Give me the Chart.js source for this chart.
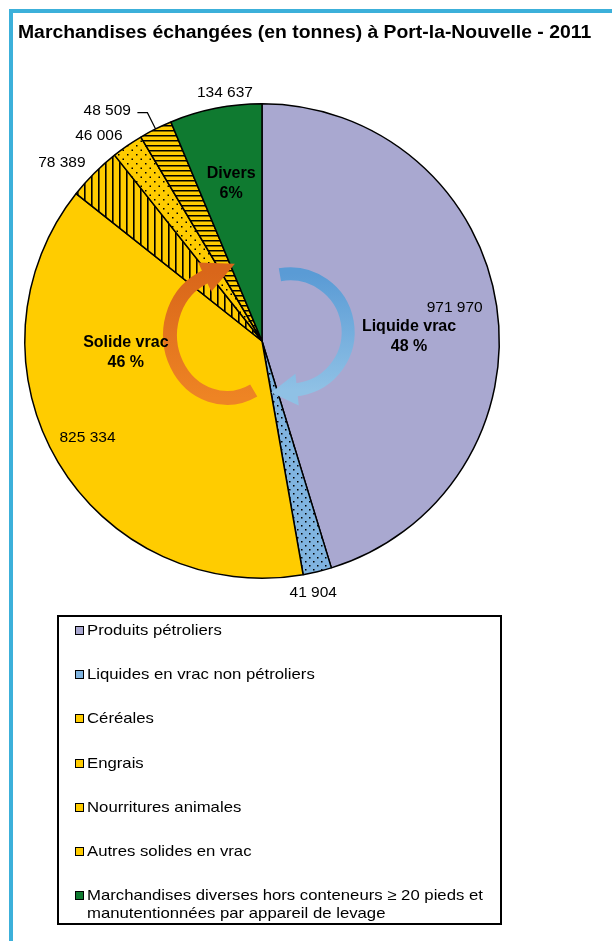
<!DOCTYPE html>
<html><head><meta charset="utf-8">
<script src="https://cdn.jsdelivr.net/npm/chart.js@4.4.1/dist/chart.umd.min.js"></script>
<style>
html,body{margin:0;padding:0;background:#fff;}
body{width:612px;height:941px;position:relative;overflow:hidden;font-family:"Liberation Sans",Arial,sans-serif;}
#frameTop{position:absolute;left:9px;top:9px;width:603px;height:4px;background:#3CB0DA;}
#frameLeft{position:absolute;left:9px;top:9px;width:4px;height:932px;background:#3CB0DA;}
#title{position:absolute;left:18px;top:21px;font-weight:bold;font-size:18px;line-height:22px;white-space:nowrap;color:#000;transform:scaleX(1.075);transform-origin:0 0;}
#c{position:absolute;left:0;top:0;}
#legend{position:absolute;left:57px;top:615px;width:441px;height:306px;border:2px solid #000;}
.item{position:absolute;left:16px;padding-left:12px;font-size:15px;line-height:18px;color:#000;white-space:nowrap;}
.item .tx{display:inline-block;transform:scaleX(1.115);transform-origin:0 0;}
.sw{position:absolute;left:0;top:5px;width:7px;height:7px;border:1.5px solid #000;}
</style></head>
<body>
<div id="frameTop"></div><div id="frameLeft"></div>
<canvas id="c" width="612" height="941"></canvas>
<div id="title">Marchandises échangées (en tonnes) à Port-la-Nouvelle - 2011</div>
<div id="legend"></div>
<script>
// ---- data ----
const categories = [
  'Produits pétroliers',
  'Liquides en vrac non pétroliers',
  'Céréales',
  'Engrais',
  'Nourritures animales',
  'Autres solides en vrac',
  'Marchandises diverses hors conteneurs ≥ 20 pieds et manutentionnées par appareil de levage'
];
const tonnages = [971970, 41904, 825334, 78389, 46006, 48509, 134637];
const groupNames = ['Liquide vrac', 'Solide vrac', 'Divers'];
const groupPercents = ['48 %', '46 %', '6%'];
const groupMembers = [[0, 1], [2, 3, 4, 5], [6]];

// ---- styles ----
const baseColors = ['#A9A8D0', '#80B4E0', '#FFCC00', '#FFCC00', '#FFCC00', '#FFCC00', '#0F7A30'];
const patternKind = ['none', 'dots', 'none', 'vlines', 'dots2', 'hlines', 'none'];
// label placement: radial factor and angular shift (deg) from slice mid-angle
const labelPlace = [
  {f:0.824, da:-1.2}, {f:1.084, da:2.0}, {f:0.84, da:1.9}, {f:1.13, da:-3.3},
  {f:1.105, da:-3.9}, {f:1.168, da:-7.3}, {f:1.059, da:2.8}
];
const groupPlace = [{f:0.62, da:3.3}, {f:0.576, da:11.4}, {f:0.677, da:0.2}];

function makePattern(kind, color) {
  if (kind === 'none') return color;
  const t = document.createElement('canvas');
  const g = t.getContext('2d');
  if (kind === 'dots' || kind === 'dots2') {
    const s = kind === 'dots' ? 8 : 9;
    t.width = s; t.height = s;
    g.fillStyle = color; g.fillRect(0, 0, s, s);
    g.fillStyle = '#000';
    g.fillRect(1, 1, 1.5, 1.5);
    g.fillRect(1 + s / 2, 1 + s / 2, 1.5, 1.5);
  } else if (kind === 'vlines') {
    t.width = 7; t.height = 4;
    g.fillStyle = color; g.fillRect(0, 0, 7, 4);
    g.fillStyle = '#000'; g.fillRect(0, 0, 1.6, 4);
  } else if (kind === 'hlines') {
    t.width = 4; t.height = 5;
    g.fillStyle = color; g.fillRect(0, 0, 4, 5);
    g.fillStyle = '#000'; g.fillRect(0, 0, 4, 1.5);
  }
  return g.createPattern(t, 'repeat');
}

const cvs = document.getElementById('c');
const fills = baseColors.map((c, i) => makePattern(patternKind[i], c));

function fmt(v) { return String(v).replace(/\B(?=(\d{3})+(?!\d))/g, ' '); }

function drawArrow(ctx, cx, cy, rx, ry, a0, a1, w, c0, c1, headLen, headHalf) {
  const grad = ctx.createLinearGradient(0, cy - ry, 0, cy + ry);
  grad.addColorStop(0, c0); grad.addColorStop(1, c1);
  ctx.save();
  ctx.strokeStyle = grad; ctx.fillStyle = grad;
  ctx.lineWidth = w; ctx.lineCap = 'butt';
  ctx.beginPath();
  ctx.ellipse(cx, cy, rx, ry, 0, a0, a1, a1 < a0);
  ctx.stroke();
  const dir = a1 >= a0 ? 1 : -1;
  const px = cx + rx * Math.cos(a1), py = cy + ry * Math.sin(a1);
  let tx = -rx * Math.sin(a1) * dir, ty = ry * Math.cos(a1) * dir;
  const L = Math.hypot(tx, ty); tx /= L; ty /= L;
  const nx = -ty, ny = tx;
  ctx.beginPath();
  ctx.moveTo(px + nx * headHalf - tx, py + ny * headHalf - ty);
  ctx.lineTo(px + tx * headLen, py + ty * headLen);
  ctx.lineTo(px - nx * headHalf - tx, py - ny * headHalf - ty);
  ctx.closePath();
  ctx.fill();
  ctx.restore();
}

const decor = {
  id: 'decor',
  afterDatasetsDraw(chart) {
    const ctx = chart.ctx;
    const arcs = chart.getDatasetMeta(0).data;
    const cx = arcs[0].x, cy = arcs[0].y, R = arcs[0].outerRadius;
    const D = Math.PI / 180;

    // decorative flow arrows
    drawArrow(ctx, cx + 28, cy - 9, R * 0.245, R * 0.245, -100 * D, 84 * D, 13,
      '#5A9BD5', '#8FC1E5', 25, 16);
    drawArrow(ctx, cx - 35, cy - 6, R * 0.24, R * 0.265, 62 * D, 248 * D, 14,
      '#D9661A', '#EE8424', 32, 16);

    ctx.save();
    ctx.fillStyle = '#000';
    ctx.textAlign = 'center'; ctx.textBaseline = 'middle';
    // value labels
    ctx.font = '15.5px "Liberation Sans", Arial, sans-serif';
    arcs.forEach((a, i) => {
      const mid = (a.startAngle + a.endAngle) / 2 + labelPlace[i].da * D;
      const r = R * labelPlace[i].f;
      ctx.fillText(fmt(tonnages[i]), cx + r * Math.cos(mid), cy + r * Math.sin(mid));
    });
    // leader line for the small slice 'Autres solides en vrac'
    {
      const a = arcs[5];
      const mid = (a.startAngle + a.endAngle) / 2;
      const ex = cx + R * Math.cos(mid), ey = cy + R * Math.sin(mid);
      const bx = cx + R * 1.077 * Math.cos(mid), by = cy + R * 1.077 * Math.sin(mid);
      ctx.strokeStyle = '#000'; ctx.lineWidth = 1.2;
      ctx.beginPath(); ctx.moveTo(bx - 10, by); ctx.lineTo(bx, by); ctx.lineTo(ex, ey); ctx.stroke();
    }
    // group labels
    ctx.font = 'bold 16px "Liberation Sans", Arial, sans-serif';
    groupMembers.forEach((m, g) => {
      const s = arcs[m[0]].startAngle, e = arcs[m[m.length - 1]].endAngle;
      const mid = (s + e) / 2 + groupPlace[g].da * D;
      const r = R * groupPlace[g].f;
      const x = cx + r * Math.cos(mid), y = cy + r * Math.sin(mid);
      ctx.fillText(groupNames[g], x, y - 10);
      ctx.fillText(groupPercents[g], x, y + 10);
    });
    ctx.restore();
  }
};

new Chart(cvs, {
  type: 'pie',
  data: { labels: categories, datasets: [{ data: tonnages, backgroundColor: fills, borderColor: '#000', borderWidth: 1.5 }] },
  options: {
    responsive: false, animation: false, events: [],
    layout: { padding: { left: 24, top: 103, right: 112, bottom: 362 } },
    plugins: { legend: { display: false }, tooltip: { enabled: false } }
  },
  plugins: [decor]
});

// HTML legend
const leg = document.getElementById('legend');
categories.forEach((name, i) => {
  const it = document.createElement('div');
  it.className = 'item';
  it.style.top = (4 + i * 44.2) + 'px';
  const sw = document.createElement('span');
  sw.className = 'sw'; sw.style.background = baseColors[i];
  it.appendChild(sw);
  const tx = document.createElement('span');
  tx.className = 'tx';
  if (i === categories.length - 1) {
    tx.innerHTML = 'Marchandises diverses hors conteneurs ≥ 20 pieds et<br>manutentionnées par appareil de levage';
  } else tx.textContent = name;
  it.appendChild(tx);
  leg.appendChild(it);
});
</script>
</body></html>
